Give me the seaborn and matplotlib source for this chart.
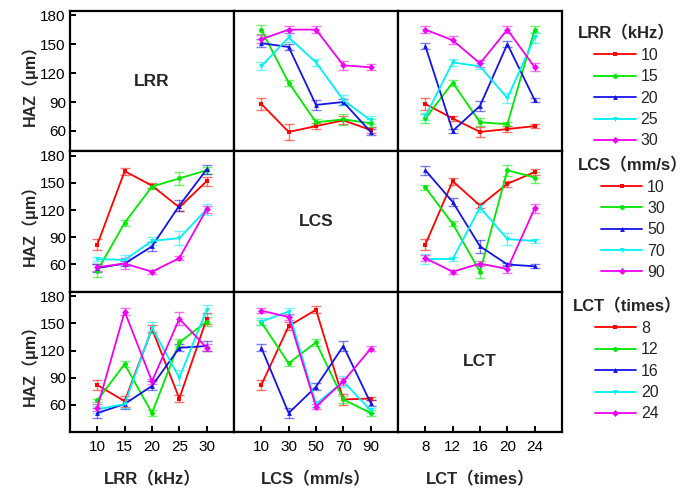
import matplotlib
matplotlib.use("Agg")
import matplotlib.pyplot as plt
import numpy as np
import pandas as pd
import seaborn as sns

# factor levels
LRR_LEVELS = [10, 15, 20, 25, 30]
LCS_LEVELS = [10, 30, 50, 70, 90]
LCT_LEVELS = [8, 12, 16, 20, 24]

FACTOR_NAMES = ["LRR", "LCS", "LCT"]
AXIS_LABELS = ["LRR（kHz）", "LCS（mm/s）", "LCT（times）"]

# HAZ means (um): rows = trace factor level, columns = x factor level
HAZ_LRR_BY_LCS = [
    [88, 59, 65, 71, 61],
    [165, 110, 69, 72, 68],
    [151, 147, 87, 90, 59],
    [127, 157, 131, 92, 71],
    [155, 165, 165, 128, 126],
]
ERR_LRR_BY_LCS = [
    [6, 8, 3, 4, 3],
    [5, 3, 3, 6, 4],
    [4, 3, 5, 3, 3],
    [4, 5, 4, 5, 4],
    [4, 4, 4, 5, 3],
]
HAZ_LRR_BY_LCT = [
    [88, 73, 59, 62, 65],
    [73, 110, 69, 67, 165],
    [148, 60, 86, 150, 92],
    [75, 131, 127, 94, 157],
    [165, 154, 130, 165, 126],
]
ERR_LRR_BY_LCT = [
    [6, 3, 5, 3, 2],
    [5, 3, 4, 2, 4],
    [3, 2, 5, 3, 2],
    [4, 4, 3, 5, 6],
    [4, 4, 4, 4, 4],
]
HAZ_LCS_BY_LRR = [
    [82, 163, 147, 123, 152],
    [53, 106, 146, 155, 164],
    [56, 61, 80, 125, 165],
    [66, 65, 86, 89, 121],
    [57, 61, 52, 67, 121],
]
ERR_LCS_BY_LRR = [
    [6, 4, 3, 4, 5],
    [7, 3, 3, 7, 4],
    [4, 3, 5, 6, 5],
    [2, 6, 4, 8, 6],
    [4, 6, 2, 2, 4],
]
HAZ_LCS_BY_LCT = [
    [82, 152, 125, 149, 162],
    [145, 105, 52, 164, 156],
    [164, 129, 80, 60, 58],
    [66, 66, 123, 88, 86],
    [67, 52, 61, 55, 122],
]
ERR_LCS_BY_LCT = [
    [6, 4, 3, 3, 3],
    [3, 3, 7, 6, 6],
    [5, 4, 7, 2, 2],
    [6, 2, 5, 7, 2],
    [3, 2, 3, 4, 5],
]
HAZ_LCT_BY_LRR = [
    [82, 64, 144, 67, 155],
    [65, 105, 51, 129, 152],
    [51, 61, 81, 123, 125],
    [55, 61, 145, 90, 165],
    [57, 163, 86, 155, 123],
]
ERR_LCT_BY_LRR = [
    [6, 6, 4, 4, 6],
    [2, 3, 3, 4, 5],
    [6, 5, 5, 4, 6],
    [4, 4, 6, 8, 5],
    [4, 4, 3, 7, 4],
]
HAZ_LCT_BY_LCS = [
    [82, 147, 165, 66, 67],
    [151, 106, 129, 66, 51],
    [123, 51, 80, 125, 62],
    [152, 163, 61, 86, 54],
    [164, 157, 58, 86, 122],
]
ERR_LCT_BY_LCS = [
    [6, 4, 4, 6, 2],
    [3, 3, 4, 4, 3],
    [4, 6, 4, 6, 3],
    [4, 4, 3, 6, 3],
    [3, 3, 3, 4, 3],
]

COLORS = ["#FF0000", "#00E600", "#1414E6", "#00F0F0", "#F000F0"]
MARKERS = ["s", "o", "^", "v", "D"]

ROW_YLIMS = [(39, 184.5), (30, 185), (30, 185)]


def draw_panel(ax, x_levels, trace_levels, means, errs):
    names = [str(t) for t in trace_levels]
    rows = []
    for name, m in zip(names, means):
        for x, v in zip(x_levels, m):
            rows.append({"x": x, "haz": v, "trace": name})
    df = pd.DataFrame(rows)
    for color, m, e in zip(COLORS, means, errs):
        ax.errorbar(x_levels, m, yerr=e, fmt="none", ecolor=color,
                    elinewidth=1.0, capsize=3.5, capthick=1.0, alpha=0.55, zorder=1)
    sns.lineplot(data=df, x="x", y="haz", hue="trace", style="trace",
                 hue_order=names, style_order=names,
                 palette=dict(zip(names, COLORS)),
                 markers=dict(zip(names, MARKERS)), dashes=False,
                 lw=1.3, markersize=3.5, markeredgewidth=0,
                 errorbar=None, ax=ax, zorder=2)


def main():
    sns.set_style("ticks")
    plt.rcParams["font.family"] = ["Liberation Sans", "Noto Sans CJK SC", "DejaVu Sans"]

    levels = [LRR_LEVELS, LCS_LEVELS, LCT_LEVELS]
    panels = {
        (0, 1): (HAZ_LRR_BY_LCS, ERR_LRR_BY_LCS),
        (0, 2): (HAZ_LRR_BY_LCT, ERR_LRR_BY_LCT),
        (1, 0): (HAZ_LCS_BY_LRR, ERR_LCS_BY_LRR),
        (1, 2): (HAZ_LCS_BY_LCT, ERR_LCS_BY_LCT),
        (2, 0): (HAZ_LCT_BY_LRR, ERR_LCT_BY_LRR),
        (2, 1): (HAZ_LCT_BY_LCS, ERR_LCT_BY_LCS),
    }

    fig = plt.figure(figsize=(6.93, 4.91), dpi=100)
    gs = fig.add_gridspec(3, 3, left=0.101, right=0.811, top=0.978, bottom=0.120,
                          hspace=0, wspace=0)

    legend_handles = {}
    for r in range(3):
        for c in range(3):
            ax = fig.add_subplot(gs[r, c])
            xl = levels[c]
            if (r, c) in panels:
                means, errs = panels[(r, c)]
                draw_panel(ax, xl, levels[r], means, errs)
                h, l = ax.get_legend_handles_labels()
                legend_handles[r] = (h, l)
                ax.get_legend().remove()
            else:
                ax.text(0.5, 0.5, FACTOR_NAMES[r], transform=ax.transAxes,
                        ha="center", va="center", fontsize=12.5, fontweight="bold")
            step = xl[1] - xl[0]
            ax.set_xlim(xl[0] - step, xl[-1] + step)
            ax.set_ylim(*ROW_YLIMS[r])
            ax.set_xticks(xl)
            ax.set_yticks([60, 90, 120, 150, 180])
            ax.set_xlabel("")
            ax.set_ylabel("")
            for sp in ax.spines.values():
                sp.set_visible(True)
                sp.set_linewidth(1.6)
                sp.set_color("black")
            ax.tick_params(direction="in", length=4, width=1.4, labelsize=11,
                           colors="black", pad=3)
            if c == 0:
                ax.set_ylabel("HAZ（μm）", fontsize=11.5, fontweight="bold", labelpad=2)
            else:
                ax.tick_params(left=False, labelleft=False)
            if r == 2:
                ax.tick_params(axis="x", pad=6)
                ax.set_xlabel(AXIS_LABELS[c], fontsize=12, fontweight="bold", labelpad=12)
            else:
                ax.tick_params(bottom=False, labelbottom=False)

    anchors = [(0.834, 0.948), (0.834, 0.680), (0.826, 0.392)]
    for r in range(3):
        h, l = legend_handles[r]
        leg = fig.legend(h, l, title=AXIS_LABELS[r], loc="upper left",
                         bbox_to_anchor=anchors[r], frameon=False, fontsize=11.5,
                         handlelength=2.6, handletextpad=0.3, labelspacing=0.4,
                         borderpad=0, borderaxespad=0)
        leg.get_title().set_fontweight("bold")
        leg.get_title().set_fontsize(12)
        for line in leg.get_lines():
            line.set_linewidth(1.3)

    fig.savefig("out.png", dpi=100)
    plt.close(fig)


if __name__ == "__main__":
    main()
